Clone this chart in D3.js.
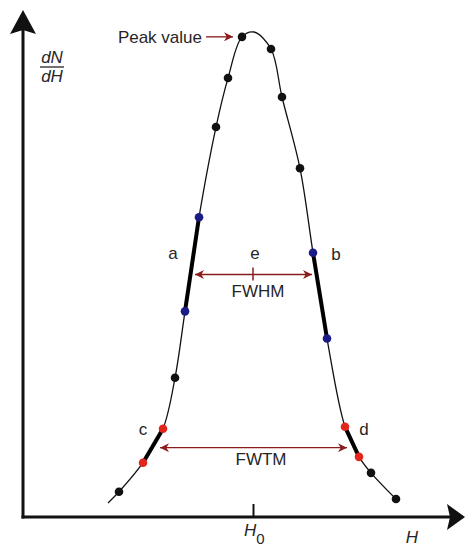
<!DOCTYPE html>
<html>
<head>
<meta charset="utf-8">
<script src="https://cdn.jsdelivr.net/npm/d3@7"></script>
<style>
  body { margin: 0; background: #fff; }
  svg text { font-family: "Liberation Sans", Arial, sans-serif; fill: #262626; }
</style>
</head>
<body>
<div class="chart"></div>
<script>
// distribution (H relative to H0, dN/dH relative to peak)
var H = [-14.5, -13.4, -11.0, -9.0, -7.8, -6.8, -5.4, -3.7, -2.5, -1.1, 0.1,
         1.8, 2.9, 4.7, 6.0, 7.4, 9.2, 10.6, 11.8, 14.3];
var dNdH = [0.029, 0.052, 0.112, 0.182, 0.287, 0.424, 0.618, 0.804, 0.905, 0.990, 1.0,
            0.965, 0.866, 0.719, 0.545, 0.368, 0.186, 0.124, 0.091, 0.037];
// which kind of marker sits on each point
var kind = ["none", "pt", "tenth", "tenth", "pt", "half", "half", "pt", "pt", "pt", "none",
            "pt", "pt", "pt", "half", "half", "tenth", "tenth", "pt", "pt"];
// slope segments: label and the two point indices
var segLabels = ["a", "b", "c", "d"];
var segFrom = [5, 14, 2, 16];
var segTo = [6, 15, 3, 17];
// widths
var fwhm = [-5.8, 5.9];
var fwtm = [-9.3, 9.4];
var halfLevel = 0.5;
var tenthLevel = 0.143;
var H0 = 0;

var svgWidth = 465;
var svgHeight = 546;

var svg = d3.select('.chart')
  .append('svg')
  .attr('width', svgWidth)
  .attr('height', svgHeight);

var x = d3.scaleLinear().domain([-23, 21]).range([23, 463]);
var y = d3.scaleLinear().domain([0, 1]).range([517, 32]);

var colors = {pt: "#111", half: "#1b1b86", tenth: "#e2261c"};
var darkRed = "#8a1c1c";

// arrow marker for the annotations
var defs = svg.append("defs");
defs.append("marker")
  .attr("id", "head")
  .attr("viewBox", "0 0 10 10")
  .attr("refX", 10).attr("refY", 5)
  .attr("markerUnits", "userSpaceOnUse")
  .attr("markerWidth", 9).attr("markerHeight", 9)
  .attr("orient", "auto-start-reverse")
  .append("path")
  .attr("d", "M0,0L10,5L0,10L3,5Z")
  .attr("fill", darkRed);

// axes
var xAxis = d3.axisBottom(x).tickValues([H0]).tickSize(-13).tickSizeOuter(0).tickFormat(function() { return ""; });
var gx = svg.append("g").attr("transform", "translate(0," + y(0) + ")").call(xAxis);
gx.select(".domain").attr("stroke", "#111").attr("stroke-width", 3)
  .attr("d", "M" + (x.range()[0] - 1.5) + ",0H" + x.range()[1]);
gx.selectAll(".tick line").attr("stroke", "#111").attr("stroke-width", 2);

svg.append("line")
  .attr("x1", x.range()[0]).attr("x2", x.range()[0])
  .attr("y1", y(0) + 1.5).attr("y2", 20)
  .attr("stroke", "#111").attr("stroke-width", 3);

// big arrow heads on the axes
svg.append("path")
  .attr("d", "M" + x.range()[0] + ",10 L" + (x.range()[0] + 13) + ",34 L" + x.range()[0] + ",30 L" + (x.range()[0] - 13) + ",34Z")
  .attr("fill", "#111");
svg.append("path")
  .attr("d", "M465," + y(0) + " L447," + (y(0) - 13) + " L450," + y(0) + " L447," + (y(0) + 13) + "Z")
  .attr("fill", "#111");

// axis labels
var frac = svg.append("g").style("font-style", "italic").style("font-size", "17px");
frac.append("text").attr("x", 52).attr("y", 63).attr("text-anchor", "middle").text("dN");
frac.append("line").attr("x1", 40).attr("x2", 64).attr("y1", 67).attr("y2", 67)
  .attr("stroke", "#262626").attr("stroke-width", 1.3);
frac.append("text").attr("x", 52).attr("y", 82).attr("text-anchor", "middle").text("dH");

svg.append("text").attr("x", 412).attr("y", 543).attr("text-anchor", "middle")
  .style("font-style", "italic").style("font-size", "17px").text("H");

var h0 = svg.append("text").attr("x", x(H0) - 9).attr("y", 536).style("font-size", "17px");
h0.append("tspan").style("font-style", "italic").text("H");
h0.append("tspan").attr("dy", 8).style("font-size", "15px").text("0");

// the curve
var pts = H.map(function(h, i) { return [h, dNdH[i]]; });
var line = d3.line()
  .x(function(d) { return x(d[0]); })
  .y(function(d) { return y(d[1]); })
  .curve(d3.curveCatmullRom.alpha(0.5));
svg.append("path")
  .datum(pts)
  .attr("d", line)
  .attr("fill", "none")
  .attr("stroke", "#111")
  .attr("stroke-width", 1.3);

// thick slope segments
svg.selectAll(".seg")
  .data(segLabels)
  .enter()
  .append("line")
  .attr("class", "seg")
  .attr("x1", function(d, i) { return x(H[segFrom[i]]); })
  .attr("y1", function(d, i) { return y(dNdH[segFrom[i]]); })
  .attr("x2", function(d, i) { return x(H[segTo[i]]); })
  .attr("y2", function(d, i) { return y(dNdH[segTo[i]]); })
  .attr("stroke", "#000")
  .attr("stroke-width", 4);

// dots
svg.selectAll(".dot")
  .data(pts.filter(function(d, i) { return kind[i] !== "none"; }))
  .enter()
  .append("circle")
  .attr("class", "dot")
  .attr("cx", function(d) { return x(d[0]); })
  .attr("cy", function(d) { return y(d[1]); })
  .attr("r", 4.3)
  .attr("fill", function(d) { return colors[kind[pts.indexOf(d)]]; });

// width arrows
[[fwhm, halfLevel], [fwtm, tenthLevel]].forEach(function(w) {
  svg.append("line")
    .attr("x1", x(w[0][0])).attr("x2", x(w[0][1]))
    .attr("y1", y(w[1])).attr("y2", y(w[1]))
    .attr("stroke", darkRed).attr("stroke-width", 1.3)
    .attr("marker-start", "url(#head)")
    .attr("marker-end", "url(#head)");
});
// centre tick e
svg.append("line")
  .attr("x1", x(H0)).attr("x2", x(H0))
  .attr("y1", y(halfLevel) - 7).attr("y2", y(halfLevel) + 6)
  .attr("stroke", darkRed).attr("stroke-width", 1.5);

// peak value pointer
svg.append("line")
  .attr("x1", x(-4.7)).attr("x2", x(-2.0))
  .attr("y1", y(0.99)).attr("y2", y(0.99))
  .attr("stroke", darkRed).attr("stroke-width", 1.3)
  .attr("marker-end", "url(#head)");

// text annotations
var notes = [
  ["Peak value", -5.1, 0.978, "end"],
  ["a", -8.0, 0.532, "middle"],
  ["e", 0.2, 0.532, "middle"],
  ["b", 8.3, 0.530, "middle"],
  ["FWHM", 0.5, 0.453, "middle"],
  ["c", -11.0, 0.170, "middle"],
  ["d", 11.1, 0.170, "middle"],
  ["FWTM", 0.8, 0.107, "middle"]
];
svg.selectAll(".note")
  .data(notes)
  .enter()
  .append("text")
  .attr("class", "note")
  .attr("x", function(d) { return x(d[1]); })
  .attr("y", function(d) { return y(d[2]); })
  .attr("text-anchor", function(d) { return d[3]; })
  .style("font-size", "17px")
  .text(function(d) { return d[0]; });
</script>
</body>
</html>
